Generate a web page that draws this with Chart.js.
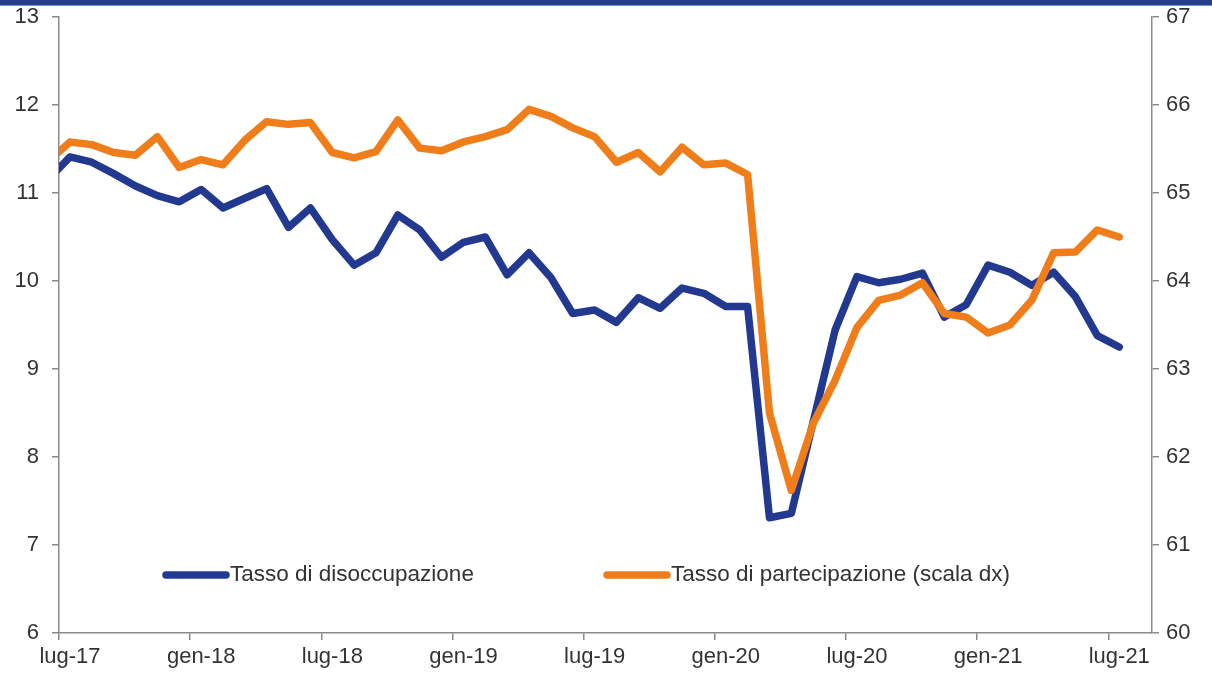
<!DOCTYPE html>
<html>
<head>
<meta charset="utf-8">
<script src="https://cdn.jsdelivr.net/npm/chart.js@4.4.1/dist/chart.umd.min.js"></script>
<style>
  body { margin: 0; background: #fff; }
  #wrap { position: relative; width: 1212px; height: 678px; }
  #band { position: absolute; left: 0; top: 0; width: 1212px; height: 5px; background: #263f8c; border-bottom: 1px solid #7d8fc4; }
</style>
</head>
<body>
<div id="wrap">
  <div id="band"></div>
  <canvas id="myChart" width="1212" height="678"></canvas>
</div>
<script>
// mesi (il primo, giu-17, è fuori scala: serve solo per l'attacco della linea)
var mesi = ['giu-17','lug-17','ago-17','set-17','ott-17','nov-17','dic-17',
  'gen-18','feb-18','mar-18','apr-18','mag-18','giu-18','lug-18','ago-18','set-18','ott-18','nov-18','dic-18',
  'gen-19','feb-19','mar-19','apr-19','mag-19','giu-19','lug-19','ago-19','set-19','ott-19','nov-19','dic-19',
  'gen-20','feb-20','mar-20','apr-20','mag-20','giu-20','lug-20','ago-20','set-20','ott-20','nov-20','dic-20',
  'gen-21','feb-21','mar-21','apr-21','mag-21','giu-21','lug-21'];

// tasso di disoccupazione (scala sx)
var disoccupazione = [11.15, 11.41, 11.35, 11.22, 11.08, 10.97, 10.90,
  11.04, 10.83, 10.94, 11.05, 10.61, 10.83, 10.47, 10.18, 10.32, 10.75, 10.58, 10.27,
  10.44, 10.50, 10.07, 10.32, 10.04, 9.63, 9.67, 9.53, 9.81, 9.69, 9.92, 9.86,
  9.71, 9.71, 7.31, 7.36, 8.40, 9.44, 10.05, 9.98, 10.02, 10.09, 9.59, 9.73,
  10.18, 10.10, 9.95, 10.10, 9.82, 9.38, 9.25];

// tasso di partecipazione (scala dx)
var partecipazione = [65.36, 65.58, 65.55, 65.46, 65.43, 65.64, 65.29,
  65.38, 65.32, 65.60, 65.81, 65.78, 65.80, 65.46, 65.40, 65.47, 65.83, 65.51, 65.48,
  65.58, 65.64, 65.72, 65.95, 65.87, 65.74, 65.64, 65.35, 65.46, 65.24, 65.52, 65.32,
  65.34, 65.21, 62.50, 61.62, 62.38, 62.87, 63.47, 63.78, 63.84, 63.98, 63.63, 63.59,
  63.41, 63.50, 63.78, 64.32, 64.33, 64.58, 64.50];

// etichette asse x (una ogni 6 mesi da lug-17)
var etichetteX = ['lug-17','gen-18','lug-18','gen-19','lug-19','gen-20','lug-20','gen-21','lug-21'];

var BLU = '#22398f';
var ARANCIO = '#ee7d1a';
var GRIGIO = '#8a8a8a';
var TESTO = '#333333';
var FONT = "'Liberation Sans', Arial, sans-serif";

// punto a metà mese: lug-17 -> 0.5, giu-17 -> -0.5
function punti(valori) {
  var out = [];
  for (var i = 0; i < valori.length; i++) {
    out.push({ x: i - 0.5, y: valori[i] });
  }
  return out;
}

// legenda dentro l'area del grafico
var legendaInterna = {
  id: 'legendaInterna',
  afterDraw: function (chart) {
    var ctx = chart.ctx;
    var a = chart.chartArea;
    var pos = [a.left + 107, a.left + 548];
    var y = 575;
    ctx.save();
    ctx.font = '22.5px ' + FONT;
    ctx.textBaseline = 'middle';
    chart.data.datasets.forEach(function (ds, i) {
      var x0 = pos[i];
      ctx.strokeStyle = ds.borderColor;
      ctx.lineWidth = 7.5;
      ctx.lineCap = 'round';
      ctx.beginPath();
      ctx.moveTo(x0, y);
      ctx.lineTo(x0 + 60, y);
      ctx.stroke();
      ctx.fillStyle = TESTO;
      ctx.fillText(ds.label, x0 + 64, y);
    });
    ctx.restore();
  }
};

// asse y: larghezza fissa e niente margine extra per le etichette
function fissaAsseY(larghezza) {
  return function (s) {
    s.width = larghezza;
    s.paddingTop = 0;
    s.paddingBottom = 0;
  };
}

var ctx = document.getElementById('myChart').getContext('2d');
var chart = new Chart(ctx, {
  type: 'line',
  data: {
    datasets: [{
      label: 'Tasso di disoccupazione',
      data: punti(disoccupazione),
      yAxisID: 'y',
      borderColor: BLU,
      borderWidth: 7.5,
      pointRadius: 0,
      borderCapStyle: 'round',
      borderJoinStyle: 'round',
      tension: 0,
      order: 1
    }, {
      label: 'Tasso di partecipazione (scala dx)',
      data: punti(partecipazione),
      yAxisID: 'y1',
      borderColor: ARANCIO,
      borderWidth: 7.5,
      pointRadius: 0,
      borderCapStyle: 'round',
      borderJoinStyle: 'round',
      tension: 0,
      order: 0
    }]
  },
  options: {
    responsive: false,
    animation: false,
    layout: { padding: { top: 17, bottom: 0, left: 0, right: 0 } },
    plugins: {
      legend: { display: false },
      tooltip: { enabled: false }
    },
    scales: {
      x: {
        type: 'linear',
        min: 0,
        max: 50,
        border: { display: true, color: GRIGIO, width: 1.5 },
        grid: { drawOnChartArea: false, drawTicks: true, tickLength: 7, color: GRIGIO, lineWidth: 1.5 },
        ticks: {
          stepSize: 6,
          includeBounds: false,
          autoSkip: false,
          maxRotation: 0,
          labelOffset: 11,
          padding: 4,
          color: TESTO,
          font: { family: FONT, size: 22 },
          callback: function (v) {
            return v % 6 === 0 ? etichetteX[v / 6] : '';
          }
        },
        afterFit: function (s) { s.height = 45; }
      },
      y: {
        position: 'left',
        min: 6,
        max: 13,
        border: { display: true, color: GRIGIO, width: 1.5 },
        grid: { drawOnChartArea: false, drawTicks: true, tickLength: 7, color: GRIGIO, lineWidth: 1.5 },
        ticks: {
          stepSize: 1,
          padding: 13,
          color: TESTO,
          font: { family: FONT, size: 22 }
        },
        afterFit: fissaAsseY(59)
      },
      y1: {
        position: 'right',
        min: 60,
        max: 67,
        border: { display: true, color: GRIGIO, width: 1.5 },
        grid: { drawOnChartArea: false, drawTicks: true, tickLength: 7, color: GRIGIO, lineWidth: 1.5 },
        ticks: {
          stepSize: 1,
          padding: 7,
          color: TESTO,
          font: { family: FONT, size: 22 }
        },
        afterFit: fissaAsseY(60)
      }
    }
  },
  plugins: [legendaInterna]
});
</script>
</body>
</html>
